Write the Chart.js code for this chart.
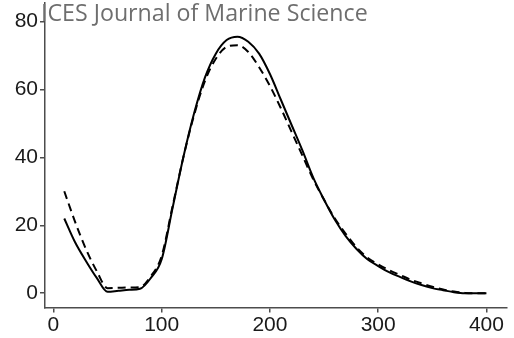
<!DOCTYPE html>
<html>
<head>
<meta charset="utf-8">
<script src="https://cdn.jsdelivr.net/npm/chart.js@4.4.1/dist/chart.umd.min.js"></script>
<style>
    body { margin: 0; background: #fff; }
    #wrap { position: relative; width: 514px; height: 338px; }
    #journal {
        position: absolute;
        left: 41px;
        top: -4px;
        font-family: "Open Sans", sans-serif;
        font-size: 23.2px;
        color: #6e6e6e;
        white-space: nowrap;
        pointer-events: none;
    }
</style>
</head>
<body>
<div id="wrap">
    <canvas id="curveChart" width="514" height="338"></canvas>
    <div id="journal">ICES Journal of Marine Science</div>
</div>
<script>
// Length classes (x) and the two fitted curves
const lengths = [10, 20, 30, 40, 50, 60, 70, 80, 90, 100, 110, 120, 130, 140, 150, 160, 170, 180, 190, 200,
                 210, 220, 230, 240, 250, 260, 270, 280, 290, 300, 310, 320, 330, 340, 350, 360, 370, 380, 390, 400];

const solidValues = [22, 15, 9.5, 4.5, 0.4, 0.7, 1.0, 1.3, 4.5, 10, 25, 40, 53, 63.5, 70.5, 74.5, 75.5, 74, 70.5, 64.5,
                     57, 49.5, 42, 34, 27.5, 21.6, 16.8, 13, 10, 8, 6.2, 4.8, 3.5, 2.4, 1.5, 0.9, 0.3, 0, 0, 0];

const dashedValues = [30, 21, 13, 6.5, 1.5, 1.6, 1.7, 1.8, 5, 11, 25.5, 40, 52.5, 62.5, 69, 72.5, 73, 71, 66.5, 61,
                      54.5, 47.5, 40.5, 33.5, 27.5, 22, 17.5, 13.5, 10.5, 8.5, 6.8, 5.4, 4, 2.9, 1.9, 1.1, 0.5, 0.1, 0, 0];

const xTicks = [0, 100, 200, 300, 400];
const yTicks = [0, 20, 40, 60, 80];

const axisColor = '#4d4d4d';
const labelFont = { family: '"Liberation Sans", Arial, sans-serif', size: 21 };

function toPoints(values) {
    return lengths.map((x, i) => ({ x: x, y: values[i] }));
}

const ctx = document.getElementById('curveChart');

new Chart(ctx, {
    type: 'line',
    data: {
        datasets: [
            {
                data: toPoints(dashedValues),
                borderColor: '#000',
                borderWidth: 2,
                borderDash: [8, 5],
                pointRadius: 0,
                cubicInterpolationMode: 'monotone',
                fill: false
            },
            {
                data: toPoints(solidValues),
                borderColor: '#000',
                borderWidth: 2,
                pointRadius: 0,
                cubicInterpolationMode: 'monotone',
                fill: false
            }
        ]
    },
    options: {
        responsive: false,
        animation: false,
        layout: { padding: { top: 3, right: 7, left: 0, bottom: 0 } },
        plugins: {
            legend: { display: false },
            tooltip: { enabled: false }
        },
        scales: {
            x: {
                type: 'linear',
                min: -7.8,
                max: 419,
                afterBuildTicks: scale => { scale.ticks = xTicks.map(v => ({ value: v })); },
                afterFit: scale => {
                    scale.height = 30.5;
                    scale.paddingLeft = 0;
                    scale.paddingRight = 0;
                },
                grid: { display: true, drawOnChartArea: false, drawTicks: true, tickLength: 5, color: axisColor, lineWidth: 1.5 },
                border: { display: true, color: axisColor, width: 1.5 },
                ticks: { color: '#1a1a1a', font: labelFont, padding: 0, maxRotation: 0 }
            },
            y: {
                type: 'linear',
                min: -4.2,
                max: 85.4,
                afterBuildTicks: scale => { scale.ticks = yTicks.map(v => ({ value: v })); },
                afterFit: scale => {
                    // labels sit well inside the axis, no extra room needed at the ends
                    scale.width = 45;
                    scale.paddingTop = 0;
                    scale.paddingBottom = 0;
                },
                grid: { display: true, drawOnChartArea: false, drawTicks: true, tickLength: 5, color: axisColor, lineWidth: 1.5 },
                border: { display: true, color: axisColor, width: 1.5 },
                ticks: { color: '#1a1a1a', font: labelFont, padding: 2 }
            }
        }
    }
});
</script>
</body>
</html>
